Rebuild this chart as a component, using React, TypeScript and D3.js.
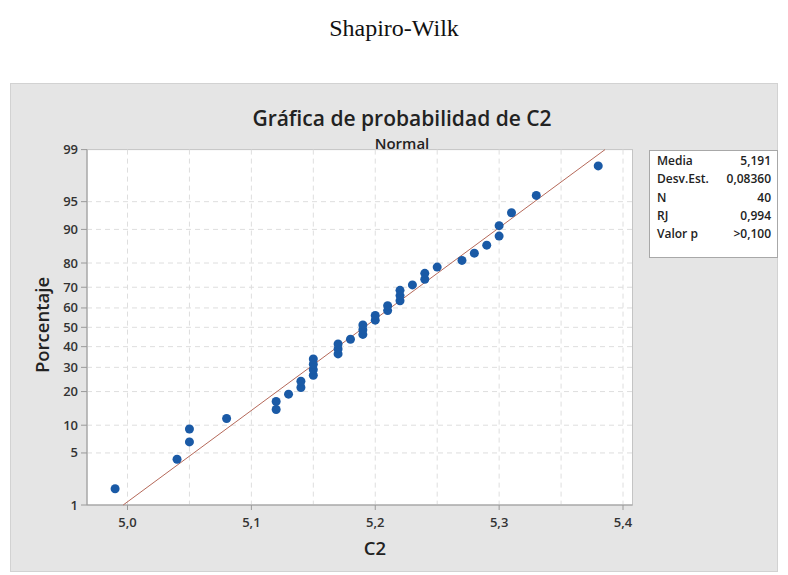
import React from "react";
import * as d3 from "d3";

// ---- data ----
const values: number[] = [
  4.99, 5.04, 5.05, 5.05, 5.08, 5.12, 5.12, 5.13, 5.14, 5.14,
  5.15, 5.15, 5.15, 5.15, 5.17, 5.17, 5.17, 5.18, 5.19, 5.19,
  5.19, 5.2, 5.2, 5.21, 5.21, 5.22, 5.22, 5.22, 5.23, 5.24,
  5.24, 5.25, 5.27, 5.28, 5.29, 5.3, 5.3, 5.31, 5.33, 5.38,
];
// plotted percentiles (median ranks) for each sorted value
const percents: number[] = [
  1.73, 4.21, 6.68, 9.16, 11.63, 14.11, 16.58, 19.06, 21.53, 24.01,
  26.49, 28.96, 31.44, 33.91, 36.39, 38.86, 41.34, 43.81, 46.29, 48.76,
  51.24, 53.71, 56.19, 58.66, 61.14, 63.61, 66.09, 68.56, 71.04, 73.51,
  75.99, 78.47, 80.94, 83.42, 85.89, 88.37, 90.84, 93.32, 95.79, 98.27,
];
const yTicks: number[] = [1, 5, 10, 20, 30, 40, 50, 60, 70, 80, 90, 95, 99];
const xTicks: number[] = [5.0, 5.1, 5.2, 5.3, 5.4];
const xGrid: number[] = [5.0, 5.05, 5.1, 5.15, 5.2, 5.25, 5.3, 5.35, 5.4];
const statLabels: string[] = ["Media", "Desv.Est.", "N", "RJ", "Valor p"];
const statValues: string[] = ["5,191", "0,08360", "40", "0,994", ">0,100"];
const fitMean = 5.191;
const fitSd = 0.0836;

// inverse standard normal CDF (Acklam)
function probit(p: number): number {
  const a = [-39.69683028665376, 220.9460984245205, -275.9285104469687, 138.357751867269, -30.66479806614716, 2.506628277459239];
  const b = [-54.47609879822406, 161.5858368580409, -155.6989798598866, 66.80131188771972, -13.28068155288572];
  const c = [-0.007784894002430293, -0.3223964580411365, -2.400758277161838, -2.549732539343734, 4.374664141464968, 2.938163982698783];
  const d = [0.007784695709041462, 0.3224671290700398, 2.445134137142996, 3.754408661907416];
  const pl = 0.02425;
  if (p < pl) {
    const q = Math.sqrt(-2 * Math.log(p));
    return (((((c[0] * q + c[1]) * q + c[2]) * q + c[3]) * q + c[4]) * q + c[5]) /
      ((((d[0] * q + d[1]) * q + d[2]) * q + d[3]) * q + 1);
  }
  if (p > 1 - pl) {
    const q = Math.sqrt(-2 * Math.log(1 - p));
    return -(((((c[0] * q + c[1]) * q + c[2]) * q + c[3]) * q + c[4]) * q + c[5]) /
      ((((d[0] * q + d[1]) * q + d[2]) * q + d[3]) * q + 1);
  }
  const q = p - 0.5;
  const r = q * q;
  return (((((a[0] * r + a[1]) * r + a[2]) * r + a[3]) * r + a[4]) * r + a[5]) * q /
    (((((b[0] * r + b[1]) * r + b[2]) * r + b[3]) * r + b[4]) * r + 1);
}

const W = 788;
const H = 575;
const plot = { left: 87, right: 632.5, top: 149.6, bottom: 505 };

const x = d3.scaleLinear().domain([5.0, 5.4]).range([127.5, 623]);
const zScale = d3.scaleLinear().domain([probit(0.01), probit(0.99)]).range([plot.bottom, plot.top]);
const y = (pct: number) => zScale(probit(pct / 100));

const SANS = "'Open Sans', 'Noto Sans', sans-serif";
const fmtX = (v: number) => d3.format(".1f")(v).replace(".", ",");

export default function App() {
  const fitLine = d3.line<number>()
    .x((p) => x(fitMean + fitSd * probit(p / 100)))
    .y((p) => y(p));
  const fitPts = [1, 99];

  const lx = 649, ly = 150, lw = 128, lh = 107;

  return (
    <svg width={W} height={H} style={{ position: "absolute", left: 0, top: 0, background: "#fff" }}>
      <text x={394} y={36} textAnchor="middle" fontFamily="'Liberation Serif', 'Times New Roman', serif" fontSize={24} fill="#111">
        Shapiro-Wilk
      </text>
      <rect x={10.5} y={83.5} width={767} height={488} fill="#e5e5e5" stroke="#d2d2d2" />
      <text x={402} y={125.5} textAnchor="middle" fontFamily={SANS} fontWeight={600} fontSize={21} fill="#222">
        Gráfica de probabilidad de C2
      </text>
      <text x={402} y={148.5} textAnchor="middle" fontFamily={SANS} fontWeight={600} fontSize={15} fill="#222">
        Normal
      </text>
      {/* plot area */}
      <rect x={plot.left} y={plot.top} width={plot.right - plot.left} height={plot.bottom - plot.top} fill="#fff" stroke="#c4c4c4" />
      {xGrid.map((v) => (
        <line key={"gx" + v} x1={x(v)} x2={x(v)} y1={plot.top} y2={plot.bottom} stroke="#dedede" strokeDasharray="5,4" />
      ))}
      {yTicks.filter((t) => t !== 1 && t !== 99).map((t) => (
        <line key={"gy" + t} x1={plot.left} x2={plot.right} y1={y(t)} y2={y(t)} stroke="#dedede" strokeDasharray="5,4" />
      ))}
      <line x1={plot.left} x2={plot.left} y1={plot.top} y2={plot.bottom} stroke="#9a9a9a" />
      <line x1={plot.left} x2={plot.right} y1={plot.bottom} y2={plot.bottom} stroke="#9a9a9a" />
      {/* y ticks */}
      {yTicks.map((t) => (
        <g key={"yt" + t}>
          <line x1={plot.left - 6} x2={plot.left} y1={y(t)} y2={y(t)} stroke="#9a9a9a" />
          <text x={plot.left - 9} y={y(t)} dy="0.35em" textAnchor="end" fontFamily={SANS} fontWeight={600} fontSize={13} fill="#333">
            {t}
          </text>
        </g>
      ))}
      {/* x ticks */}
      {xTicks.map((t) => (
        <g key={"xt" + t}>
          <line x1={x(t)} x2={x(t)} y1={plot.bottom} y2={plot.bottom + 5} stroke="#9a9a9a" />
          <text x={x(t)} y={527} textAnchor="middle" fontFamily={SANS} fontWeight={600} fontSize={13} fill="#333">
            {fmtX(t)}
          </text>
        </g>
      ))}
      <text x={375} y={555} textAnchor="middle" fontFamily={SANS} fontWeight={600} fontSize={18.5} fill="#222">
        C2
      </text>
      <text transform="translate(49,325) rotate(-90)" textAnchor="middle" fontFamily={SANS} fontWeight={600} fontSize={18.5} fill="#222">
        Porcentaje
      </text>
      {/* fitted line */}
      <path d={fitLine(fitPts) || ""} fill="none" stroke="#b5695a" strokeWidth={1} />
      {/* points */}
      {values.map((v, i) => (
        <circle key={"p" + i} cx={x(v)} cy={y(percents[i])} r={4.5} fill="#1a5aa6" />
      ))}
      {/* legend */}
      <rect x={lx + 0.5} y={ly + 0.5} width={lw} height={lh} fill="#fff" stroke="#a8a8a8" />
      {statLabels.map((s, i) => (
        <g key={"s" + i}>
          <text x={lx + 8} y={ly + 15 + i * 18.3} fontFamily={SANS} fontWeight={600} fontSize={12} fill="#222">
            {s}
          </text>
          <text x={lx + lw - 6} y={ly + 15 + i * 18.3} textAnchor="end" fontFamily={SANS} fontWeight={600} fontSize={12} fill="#222">
            {statValues[i]}
          </text>
        </g>
      ))}
    </svg>
  );
}
